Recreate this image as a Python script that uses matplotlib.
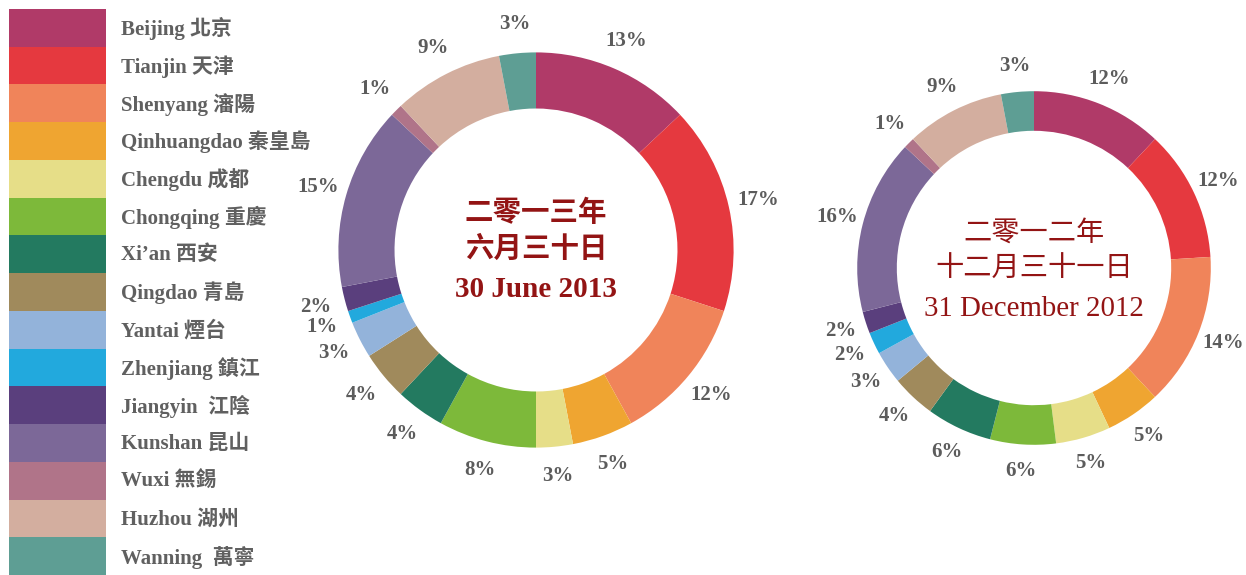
import matplotlib
matplotlib.use("Agg")
import matplotlib.pyplot as plt
from matplotlib.patches import Rectangle

# ---------------- data ----------------
cities = ["Beijing 北京", "Tianjin 天津", "Shenyang 瀋陽", "Qinhuangdao 秦皇島",
          "Chengdu 成都", "Chongqing 重慶", "Xi’an 西安", "Qingdao 青島",
          "Yantai 煙台", "Zhenjiang 鎮江", "Jiangyin  江陰", "Kunshan 昆山",
          "Wuxi 無錫", "Huzhou 湖州", "Wanning  萬寧"]
share_2013 = [13, 17, 12, 5, 3, 8, 4, 4, 3, 1, 2, 15, 1, 9, 3]
share_2012 = [12, 12, 14, 5, 5, 6, 6, 4, 3, 2, 2, 16, 1, 9, 3]
colors = ["#B03A68", "#E5393F", "#F0845A", "#EFA531", "#E6DE88", "#7DB93A",
          "#237A60", "#A08A5C", "#93B3DA", "#22A9DD", "#5A3F7D", "#7C6898",
          "#B07489", "#D3AE9F", "#5E9E94"]
title_2013 = ["二零一三年", "六月三十日", "30 June 2013"]
title_2012 = ["二零一二年", "十二月三十一日", "31 December 2012"]

W, H = 1246, 575
fig = plt.figure(figsize=(W / 100, H / 100), dpi=100)

SERIF_CJK = ["Liberation Serif", "Noto Sans CJK TC"]
GRAY = "#5c5c5c"
DARKRED = "#931414"

# ---------------- legend ----------------
lax = fig.add_axes([0, 0, 1, 1])
lax.set_xlim(0, W)
lax.set_ylim(H, 0)
lax.axis("off")
top, bottom = 9, 575
h = (bottom - top) / len(cities)
for i, (name, c) in enumerate(zip(cities, colors)):
    y0 = top + i * h
    lax.add_patch(Rectangle((9, y0), 97, h, facecolor=c, edgecolor="none"))
    lax.text(121, y0 + h / 2 + 1, name, fontsize=15, family=SERIF_CJK,
             color="#606060", ha="left", va="center", fontweight="bold")


def donut(cx, cy, r_px, width, values, titles, bold, sizes, offs):
    half = 1.3 * r_px
    ax = fig.add_axes([(cx - half) / W, (H - cy - half) / H, 2 * half / W, 2 * half / H])
    ax.set_xlim(-1.3, 1.3)
    ax.set_ylim(-1.3, 1.3)
    ax.set_aspect("equal")
    ax.axis("off")
    labels = [f"{v}%" for v in values]
    wedges, texts = ax.pie(values, colors=colors, startangle=90, counterclock=False,
                           radius=1, wedgeprops=dict(width=width, edgecolor="none"),
                           labels=labels, labeldistance=1.15,
                           textprops=dict(fontsize=15, fontweight="bold", color=GRAY,
                                          family="Liberation Serif"))
    for t in texts:
        t.set_ha("center")
        t.set_va("center")
    fw = "bold" if bold else "normal"
    ax.text(0, offs[0], titles[0], ha="center", va="center", fontsize=sizes[0],
            family=["Noto Sans CJK TC"], color=DARKRED, fontweight=fw)
    ax.text(0, offs[1], titles[1], ha="center", va="center", fontsize=sizes[0],
            family=["Noto Sans CJK TC"], color=DARKRED, fontweight=fw)
    ax.text(0, offs[2], titles[2], ha="center", va="center", fontsize=sizes[1],
            family="Liberation Serif", color=DARKRED, fontweight=fw)
    return ax


donut(536, 250, 190, 0.284, share_2013, title_2013, True, (20.5, 21), (0.185, 0.005, -0.20))
donut(1034, 268, 170, 0.224, share_2012, title_2012, False, (20.3, 20.8), (0.20, -0.006, -0.23))

fig.savefig("out.png", dpi=100)
